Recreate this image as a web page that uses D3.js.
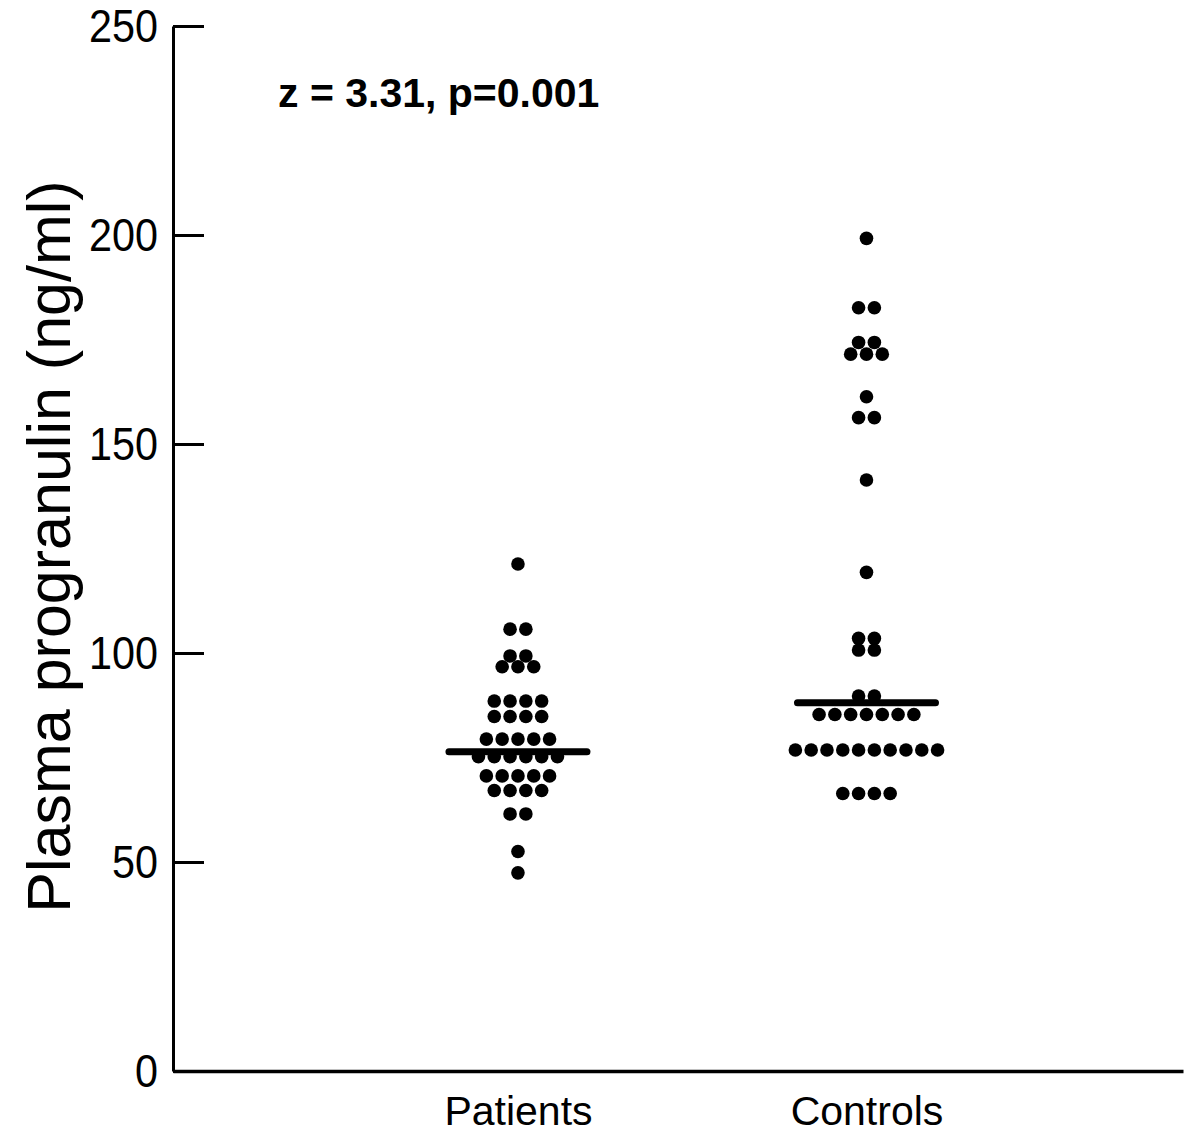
<!DOCTYPE html>
<html>
<head>
<meta charset="utf-8">
<script src="https://cdn.jsdelivr.net/npm/d3@7"></script>
<style>
  html, body { margin: 0; padding: 0; background: #fff; }
  svg { display: block; }
  text { font-family: "Liberation Sans", Arial, Helvetica, sans-serif; fill: #000; }
</style>
</head>
<body>
<svg id="chart" width="1200" height="1145"></svg>
<script>
// ---- data ----
const categories = ["Patients", "Controls"];
const patientsValues = [
  121.3,
  105.7, 105.7,
  99.3, 99.3,
  96.7, 96.7, 96.7,
  88.5, 88.5, 88.5, 88.5,
  84.8, 84.8, 84.8, 84.8,
  79.4, 79.4, 79.4, 79.4, 79.4,
  75.2, 75.2, 75.2, 75.2, 75.2, 75.2,
  70.6, 70.6, 70.6, 70.6, 70.6,
  67.1, 67.1, 67.1, 67.1,
  61.5, 61.5,
  52.5,
  47.4
];
const controlsValues = [
  199.2,
  182.6, 182.6,
  174.3, 174.3,
  171.5, 171.5, 171.5,
  161.3,
  156.3, 156.3,
  141.4,
  119.3,
  103.5, 103.5,
  100.7, 100.7,
  89.7, 89.7,
  85.3, 85.3, 85.3, 85.3, 85.3, 85.3, 85.3,
  76.8, 76.8, 76.8, 76.8, 76.8, 76.8, 76.8, 76.8, 76.8, 76.8,
  66.4, 66.4, 66.4, 66.4
];
const medianLines = [76.4, 88.1];
const yTicks = [0, 50, 100, 150, 200, 250];
const yLabel = "Plasma progranulin (ng/ml)";
const statText = "z = 3.31, p=0.001";

// ---- layout ----
const svg = d3.select("#chart");
const axisX = 173, axisRight = 1183, yTop = 26, yBottom = 1071;

const y = d3.scaleLinear().domain([0, 250]).range([yBottom, yTop]);
const x = d3.scalePoint().domain(categories).range([axisX, axisRight]).padding(0.949).align(0.5215);

const dotR = 6.8, dotGap = 15.8, medianHalf = 69;

// build swarm rows: identical values form one horizontal row centred on the category
function swarm(values, cat) {
  const groups = d3.groups(values, v => v);
  const out = [];
  groups.forEach(([v, arr]) => {
    const n = arr.length;
    arr.forEach((_, j) => out.push({ cat, value: v, offset: (j - (n - 1) / 2) * dotGap }));
  });
  return out;
}
const points = swarm(patientsValues, "Patients").concat(swarm(controlsValues, "Controls"));

// dots
svg.append("g").selectAll("circle")
  .data(points).join("circle")
  .attr("cx", d => x(d.cat) + d.offset)
  .attr("cy", d => y(d.value))
  .attr("r", dotR)
  .attr("fill", "#000");

// median lines
svg.append("g").selectAll("line")
  .data(categories.map((c, i) => ({ cat: c, value: medianLines[i] })))
  .join("line")
  .attr("x1", d => x(d.cat) - medianHalf)
  .attr("x2", d => x(d.cat) + medianHalf)
  .attr("y1", d => y(d.value))
  .attr("y2", d => y(d.value))
  .attr("stroke", "#000")
  .attr("stroke-width", 7)
  .attr("stroke-linecap", "round");

// y axis
const yAxis = svg.append("g")
  .attr("transform", `translate(${axisX},0)`)
  .call(d3.axisLeft(y).tickValues(yTicks).tickSizeInner(-31).tickSizeOuter(0).tickPadding(17));
yAxis.select(".domain").attr("stroke", "#000").attr("stroke-width", 3);
yAxis.selectAll(".tick line").attr("stroke", "#000").attr("stroke-width", 3);
yAxis.selectAll(".tick text")
  .attr("font-size", 47)
  .attr("font-family", "Liberation Sans, Arial, sans-serif")
  .attr("transform", "scale(0.88,1)")
  .attr("fill", "#000");

// x axis
const xAxis = svg.append("g")
  .attr("transform", `translate(0,${yBottom})`)
  .call(d3.axisBottom(x).tickSize(0).tickPadding(25));
xAxis.select(".domain").attr("stroke", "#000").attr("stroke-width", 3.5);
xAxis.selectAll(".tick text")
  .attr("font-size", 41)
  .attr("font-family", "Liberation Sans, Arial, sans-serif")
  .attr("fill", "#000");

// y label
svg.append("text")
  .attr("transform", `translate(70,${(yTop + yBottom) / 2 - 2}) rotate(-90)`)
  .attr("text-anchor", "middle")
  .attr("font-size", 61)
  .text(yLabel);

// statistics annotation
svg.append("text")
  .attr("x", 278)
  .attr("y", 107)
  .attr("font-size", 41)
  .attr("font-weight", "bold")
  .text(statText);
</script>
</body>
</html>
